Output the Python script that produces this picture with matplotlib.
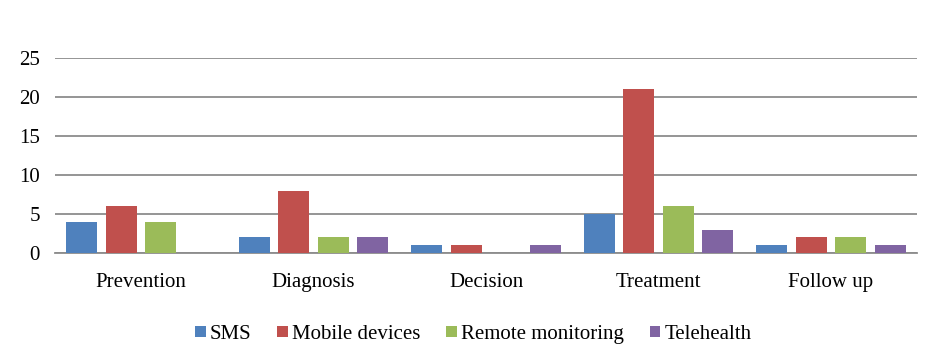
import matplotlib.pyplot as plt
import numpy as np

plt.rcParams['font.family'] = ['Liberation Serif', 'DejaVu Serif']

categories = ['Prevention', 'Diagnosis', 'Decision', 'Treatment', 'Follow up']
series_names = ['SMS', 'Mobile devices', 'Remote monitoring', 'Telehealth']
sms = [4, 2, 1, 5, 1]
mobile = [6, 8, 1, 21, 2]
remote = [4, 2, 0, 6, 2]
telehealth = [0, 2, 1, 3, 1]
colors = ['#4F81BD', '#C0504D', '#9BBB59', '#8064A2']

fig = plt.figure(figsize=(9.32, 3.55), dpi=100)
ax = fig.add_axes([0.059, 0.287, 0.925, 0.55])

x = np.arange(len(categories))
width = 0.18
step = 0.229
for i, (vals, name) in enumerate(zip([sms, mobile, remote, telehealth], series_names)):
    ax.bar(x + (i - 1.5) * step, vals, width, color=colors[i], label=name, zorder=3)

ax.set_xlim(-0.5, len(categories) - 0.5)
ax.set_ylim(0, 25)
ax.set_yticks(range(0, 26, 5))
ax.set_xticks(x)
ax.set_xticklabels(categories)
ax.yaxis.grid(True, color='#8c8c8c', linewidth=1.3, zorder=0)
ax.tick_params(axis='both', length=0, labelsize=15)
ax.tick_params(axis='x', pad=14)
ax.tick_params(axis='y', pad=11)
for s in ['top', 'right', 'left']:
    ax.spines[s].set_visible(False)
ax.spines['bottom'].set_color('#8c8c8c')
ax.spines['bottom'].set_linewidth(1.3)

fig.legend(loc='center', bbox_to_anchor=(0.508, 0.058), ncol=4, frameon=False,
           fontsize=15, handlelength=0.5, handleheight=0.5, handletextpad=0.2,
           columnspacing=1.25)

fig.savefig('out.png', dpi=100)
